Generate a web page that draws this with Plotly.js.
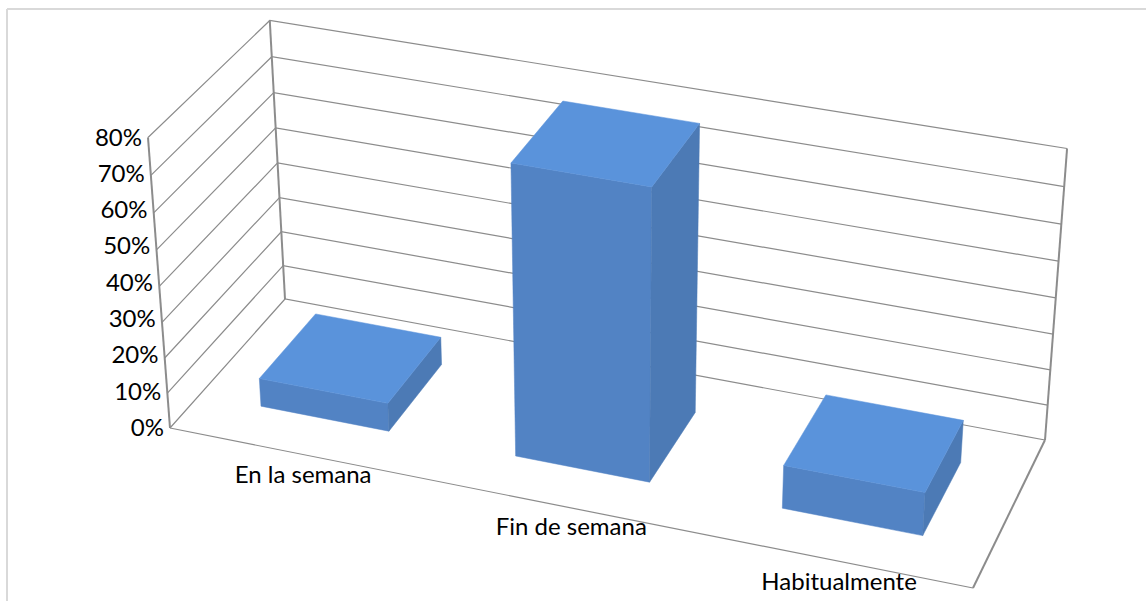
<!DOCTYPE html>
<html><head><meta charset="utf-8">
<script src="https://cdn.plot.ly/plotly-3.0.1.min.js"></script>
<style>html,body{margin:0;padding:0;background:#fff}#c{width:1146px;height:601px}</style></head>
<body><div id="c"></div>
<script>
const categories = ["En la semana","Fin de semana","Habitualmente"];
const values = [8, 80, 12];
const tickValues = [0,10,20,30,40,50,60,70,80];
const tickLabels = ["0%","10%","20%","30%","40%","50%","60%","70%","80%"];

const FL=[170,428],FR=[973,588],BR=[1045,440],BL=[285,299];
function homography(p0,p1,p2,p3){
  const dx1=p1[0]-p2[0],dx2=p3[0]-p2[0],sx=p0[0]-p1[0]+p2[0]-p3[0];
  const dy1=p1[1]-p2[1],dy2=p3[1]-p2[1],sy=p0[1]-p1[1]+p2[1]-p3[1];
  const den=dx1*dy2-dx2*dy1;
  const g=(sx*dy2-dx2*sy)/den,h=(dx1*sy-sx*dy1)/den;
  return {a:p1[0]-p0[0]+g*p1[0],b:p3[0]-p0[0]+h*p3[0],c:p0[0],
          d:p1[1]-p0[1]+g*p1[1],e:p3[1]-p0[1]+h*p3[1],f:p0[1],g,h};
}
const H=homography(FL,FR,BR,BL);
const VP=[608,6211],cz=-22/(80*(VP[0]-148));
function proj(u,v,z){
  const s=u/3,t=v;
  const w=H.g*s+H.h*t+1+cz*z;
  return [(H.a*s+H.b*t+H.c+cz*VP[0]*z)/w,(H.d*s+H.e*t+H.f+cz*VP[1]*z)/w];
}
const barHalf=0.254,vFront=0.25,vBack=0.75;
const traces=[];
function line(pts,w,col){traces.push({type:"scatter",mode:"lines",x:pts.map(p=>p[0]),y:pts.map(p=>p[1]),line:{color:col,width:w},hoverinfo:"skip",cliponaxis:false});}
function poly(pts,col){const q=pts.concat([pts[0]]);traces.push({type:"scatter",mode:"lines",x:q.map(p=>p[0]),y:q.map(p=>p[1]),fill:"toself",fillcolor:col,line:{color:col,width:0.5},hoverinfo:"skip"});}
tickValues.forEach(z=>{line([proj(0,0,z),proj(0,1,z),proj(3,1,z)],1.2,"#8c8c8c");});
line([proj(0,0,0),proj(3,0,0)],1.2,"#8c8c8c");
line([proj(0,0,0),proj(0,0,80)],2,"#8c8c8c");
line([proj(0,1,0),proj(0,1,80)],2,"#8c8c8c");
line([proj(3,1,0),proj(3,1,80)],2,"#8c8c8c");
line([proj(3,1,0),proj(3,0,0)],2,"#8c8c8c");
values.forEach((val,i)=>{
  const u0=i+0.5-barHalf,u1=i+0.5+barHalf;
  poly([proj(u0,vFront,0),proj(u1,vFront,0),proj(u1,vFront,val),proj(u0,vFront,val)],"#5283c4");
  poly([proj(u1,vFront,0),proj(u1,vBack,0),proj(u1,vBack,val),proj(u1,vFront,val)],"#4c7ab5");
  poly([proj(u0,vFront,val),proj(u1,vFront,val),proj(u1,vBack,val),proj(u0,vBack,val)],"#5a93db");
});
// Value labels are evenly spaced between the axis ends, as in the reference.
const p0=proj(0,0,0),p80=proj(0,0,80);
const tp=tickValues.map(z=>[p0[0]+(p80[0]-p0[0])*z/80,p0[1]+(p80[1]-p0[1])*z/80]);
traces.push({type:"scatter",mode:"text",x:tp.map(p=>p[0]-6),y:tp.map(p=>p[1]+2),text:tickLabels,textposition:"middle left",textfont:{family:"Lato",size:24,color:"#000"},hoverinfo:"skip",cliponaxis:false});
const labelShift=[7,14,8];
const cp=categories.map((c,i)=>proj(i+0.5,0,0));
traces.push({type:"scatter",mode:"text",x:cp.map((p,i)=>p[0]+labelShift[i]),y:cp.map(p=>p[1]+24),text:categories,textposition:"middle center",textfont:{family:"Lato",size:24,color:"#000"},hoverinfo:"skip",cliponaxis:false});
const layout={width:1146,height:601,margin:{l:0,r:0,t:0,b:0},showlegend:false,paper_bgcolor:"#fff",plot_bgcolor:"#fff",
 xaxis:{range:[0,1146],visible:false,fixedrange:true},yaxis:{range:[601,0],visible:false,fixedrange:true},
 shapes:[{type:"line",xref:"x",yref:"y",x0:7,x1:1146,y0:9,y1:9,line:{color:"#d9d9d9",width:2}},{type:"line",xref:"x",yref:"y",x0:7,x1:7,y0:9,y1:601,line:{color:"#d9d9d9",width:2}}]};
Plotly.newPlot("c",traces,layout,{staticPlot:true,displayModeBar:false});
</script></body></html>
